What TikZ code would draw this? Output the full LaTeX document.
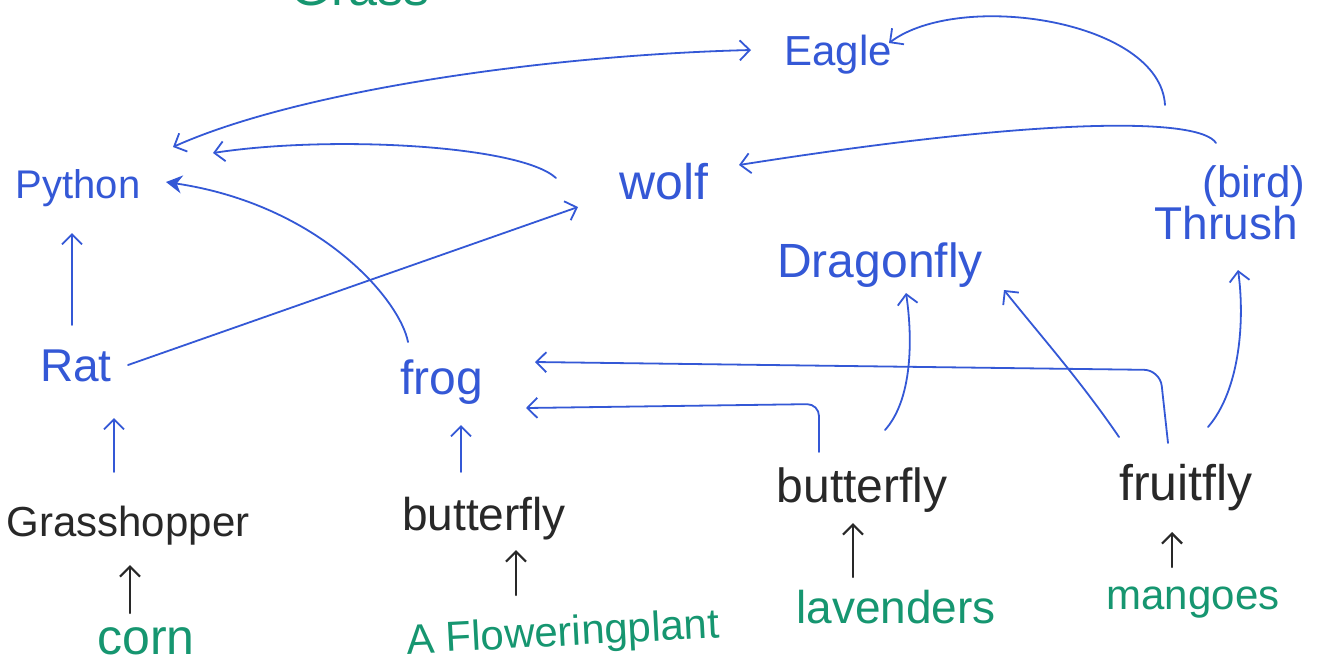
\documentclass[tikz,border=0pt]{standalone}
\usepackage{fontspec}
\setmainfont{Liberation Sans}
\usetikzlibrary{arrows.meta,calc}

\definecolor{penblue}{RGB}{52,88,214}
\definecolor{penblack}{RGB}{40,40,40}
\definecolor{pengreen}{RGB}{22,150,112}

\tikzset{
  fsz/.style={font=\fontsize{#1}{#1}\selectfont},
  lbl/.style={inner sep=0pt, anchor=center},
  blu/.style={lbl, text=penblue},
  blk/.style={lbl, text=penblack},
  grn/.style={lbl, text=pengreen},
  barrow/.style={draw=penblue, line width=0.9pt, line cap=round,
    -{Straight Barb[length=5pt,width=10pt,line width=0.9pt]}},
  bboth/.style={barrow,
    {Straight Barb[length=5pt,width=10pt,line width=0.9pt]}-{Straight Barb[length=5pt,width=10pt,line width=0.9pt]}},
  bfill/.style={draw=penblue, line width=0.9pt, line cap=round,
    -{Stealth[length=8pt,width=9pt]}},
  karrow/.style={draw=penblack, line width=1.1pt, line cap=round,
    -{Straight Barb[length=5pt,width=10pt,line width=1.1pt]}},
}

\begin{document}
\begin{tikzpicture}[x=0.5pt,y=-0.5pt]
  \fill[white] (0,0) rectangle (1326,666);
  \useasboundingbox (0,0) rectangle (1326,666);

  % heading, running off the top edge
  \node[grn, fsz=26, anchor=base] (head) at (360,5) {Grass};

  % consumers
  \node[blu, fsz=21] (eagle)  at (838,55)  {Eagle};
  \node[blu, fsz=20] (python) at (78,188)  {Python};
  \node[blu, fsz=25] (wolf)   at (664,182) {wolf};
  \node[blu, fsz=22] (bird)   at (1254,186) {(bird)};
  \node[blu, fsz=23] (thrush) at (1226,223) {Thrush};
  \node[blu, fsz=24] (dragon) at (880,265) {Dragonfly};
  \node[blu, fsz=23] (rat)    at (76,366)  {Rat};
  \node[blu, fsz=24] (frog)   at (442,382) {frog};

  % insects
  \node[blk, fsz=21] (grass) at (128,526) {Grasshopper};
  \node[blk, fsz=23] (bfL)   at (484,519) {butterfly};
  \node[blk, fsz=24] (bfR)   at (862,490) {butterfly};
  \node[blk, fsz=25] (fruit) at (1186,488) {fruitfly};

  % producers
  \node[grn, fsz=25] (corn)   at (146,641) {corn};
  \node[grn, fsz=21, rotate=3] (flower) at (563,635) {A Floweringplant};
  \node[grn, fsz=23] (lav)    at (896,607) {lavenders};
  \node[grn, fsz=21] (mango)  at (1193,603) {mangoes};

  % producers to insects
  \draw[karrow] ($(corn)+(-16,-28)$)   -- ($(grass)+(2,39)$);
  \draw[karrow] ($(flower)+(-47,-40)$) -- ($(bfL)+(32,31)$);
  \draw[karrow] ($(lav)+(-43,-30)$)    -- ($(bfR)+(-9,33)$);
  \draw[karrow] ($(mango)+(-21,-36)$)  -- ($(fruit)+(-14,44)$);

  % insects to small animals
  \draw[barrow] ($(grass)+(-14,-54)$) -- ($(rat)+(38,52)$);
  \draw[barrow] ($(bfL)+(-23,-47)$)   -- ($(frog)+(19,43)$);
  \draw[barrow, rounded corners=6pt] ($(bfR)+(-43,-38)$) -- ($(bfR)+(-43,-86)$) -- ($(frog)+(84,26)$);
  \draw[barrow, rounded corners=8pt] ($(fruit)+(-18,-45)$) -- ($(fruit)+(-26,-118)$) -- ($(frog)+(93,-20)$);
  \draw[barrow] ($(bfR)+(23,-60)$) .. controls (912,400) and (913,340) .. ($(dragon)+(26,28)$);
  \draw[barrow] ($(fruit)+(-67,-51)$) .. controls (1080,380) and (1040,335) .. ($(dragon)+(124,25)$);
  \draw[barrow] ($(fruit)+(22,-61)$) .. controls (1240,390) and (1245,320) .. ($(thrush)+(12,47)$);

  % up to the top predators
  \draw[barrow] ($(rat)+(-4,-41)$) -- ($(python)+(-6,45)$);
  \draw[barrow] ($(rat)+(52,-1)$)  -- ($(wolf)+(-86,25)$);
  \draw[bfill]  ($(frog)+(-34,-40)$) .. controls (400,300) and (320,205) .. ($(python)+(88,-6)$);
  \draw[barrow] ($(wolf)+(-108,-4)$) .. controls (520,145) and (330,135) .. ($(python)+(135,-35)$);
  \draw[bboth]  ($(python)+(95,-41)$) .. controls (300,90) and (550,55) .. ($(eagle)+(-87,-5)$);
  \draw[barrow] ($(bird)+(-89,-81)$) .. controls (1160,20) and (960,-10) .. ($(eagle)+(51,-12)$);
  \draw[barrow] ($(bird)+(-38,-43)$) .. controls (1200,118) and (1050,116) .. ($(wolf)+(75,-17)$);
\end{tikzpicture}
\end{document}
